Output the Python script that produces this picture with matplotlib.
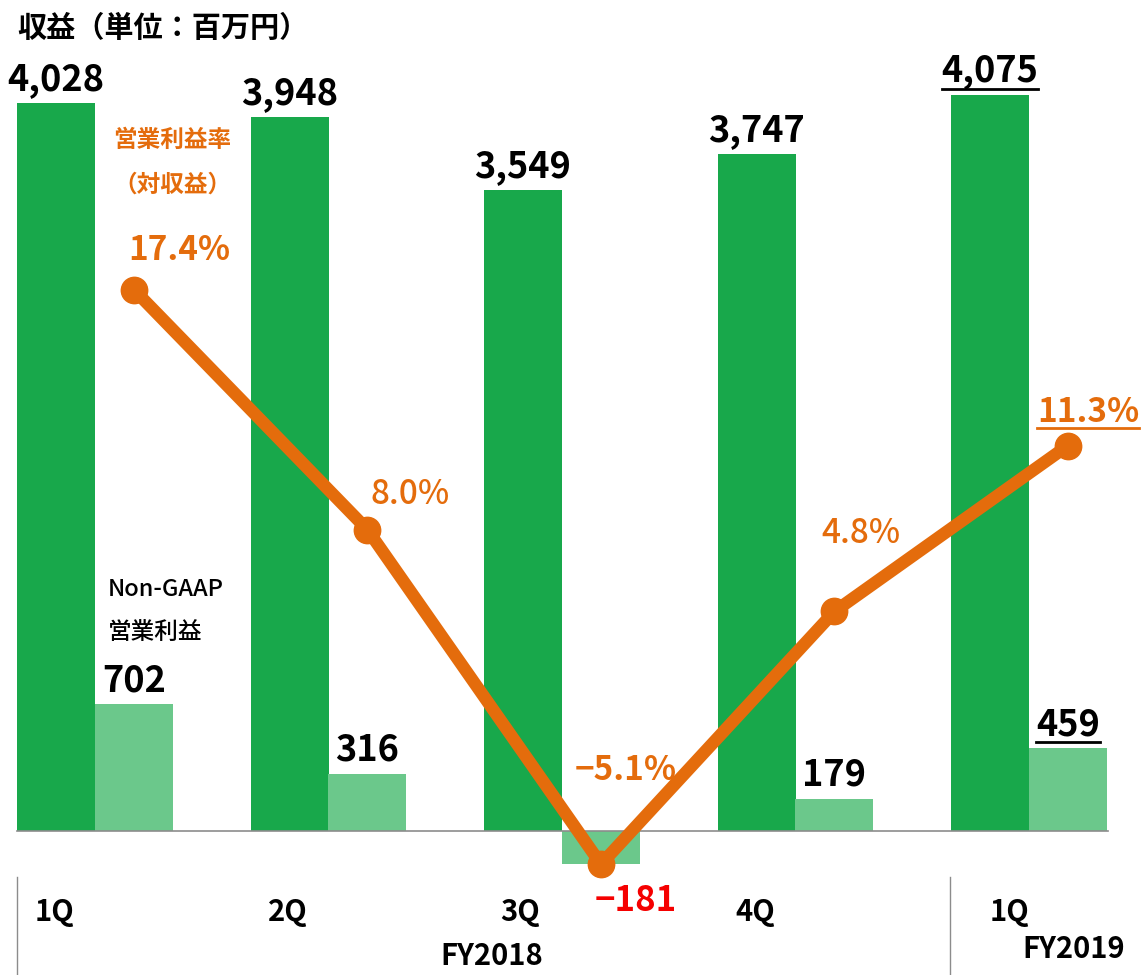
import numpy as np
import matplotlib
matplotlib.use("Agg")
import matplotlib.pyplot as plt
from matplotlib.lines import Line2D

plt.rcParams['font.family'] = ['Noto Sans CJK JP', 'DejaVu Sans']

# data
quarters = ["1Q", "2Q", "3Q", "4Q", "1Q"]
revenue = [4028, 3948, 3549, 3747, 4075]
op_income = [702, 316, -181, 179, 459]
margin = [17.4, 8.0, -5.1, 4.8, 11.3]
rev_labels = ["4,028", "3,948", "3,549", "3,747", "4,075"]
inc_labels = ["702", "316", "\u2212181", "179", "459"]
pct_labels = ["17.4%", "8.0%", "\u22125.1%", "4.8%", "11.3%"]

DARK = "#18a84b"
LIGHT = "#6bc88b"
ORANGE = "#e46c0c"
RED = "#f50000"
W, H = 1146, 975

fig = plt.figure(figsize=(W / 100, H / 100), dpi=100)
ax = fig.add_axes([0, 0, 1, 1])
ax2 = ax.twinx()

x = np.arange(len(quarters))
bw = 0.334
ax.bar(x - bw / 2, revenue, bw, color=DARK, zorder=2)
ax.bar(x + bw / 2, op_income, bw, color=LIGHT, zorder=2)
ax.plot([-0.334, 4.34], [0, 0], color="#8c8c8c", lw=1.2, zorder=3)

ax.set_xlim(-95 / 233.5, (W - 95) / 233.5)
scale = 728 / 4028
ax.set_ylim(-(H - 831) / scale, 831 / scale)
pscale = 25.53
ax2.set_ylim(-(H - 734) / pscale, 734 / pscale)

ax2.plot(x + bw / 2, margin, color=ORANGE, lw=9, marker="o", ms=19,
         solid_capstyle="round", zorder=5)

for a in (ax, ax2):
    a.axis("off")

underlined = []

# revenue labels
for i, (v, t) in enumerate(zip(revenue, rev_labels)):
    tx = ax.annotate(t, (x[i] - bw / 2, v), xytext=(0, 13), textcoords="offset pixels",
                     ha="center", va="baseline", fontsize=26, fontweight="bold")
    if i == 4:
        underlined.append((tx, "black"))

# income labels
for i, (v, t) in enumerate(zip(op_income, inc_labels)):
    if v < 0:
        ax.annotate(t, (x[i] + bw / 2, v), xytext=(35, -47), textcoords="offset pixels",
                    ha="center", va="baseline", fontsize=25, fontweight="bold", color=RED)
        continue
    tx = ax.annotate(t, (x[i] + bw / 2, v), xytext=(0, 13), textcoords="offset pixels",
                     ha="center", va="baseline", fontsize=26, fontweight="bold")
    if i == 4:
        underlined.append((tx, "black"))

# margin labels
pct_off = [(45, 30), (43, 26), (25, 84), (26, 68), (20, 24)]
pct_w = ["bold", "medium", "bold", "medium", "bold"]
for i, (v, t) in enumerate(zip(margin, pct_labels)):
    tx = ax2.annotate(t, (x[i] + bw / 2, v), xytext=pct_off[i], textcoords="offset pixels",
                      ha="center", va="baseline", fontsize=24, fontweight=pct_w[i], color=ORANGE)
    if i == 4:
        underlined.append((tx, ORANGE))


def fx(px):
    return px / W


def fy(py):
    return 1 - py / H


fig.text(fx(17), fy(28), "収益（単位：百万円）", fontsize=21, fontweight="bold", va="center")
fig.text(fx(172), fy(140), "営業利益率", fontsize=17, fontweight="bold", color=ORANGE,
         ha="center", va="center")
fig.text(fx(172), fy(185), "（対収益）", fontsize=17, fontweight="bold", color=ORANGE,
         ha="center", va="center")
fig.text(fx(108), fy(590), "Non-GAAP", fontsize=17, fontweight="medium", va="center")
fig.text(fx(108), fy(632), "営業利益", fontsize=17, fontweight="medium", va="center")

# category labels
cat_x = [35, 268, 500, 735, 990]
for q, cx in zip(quarters, cat_x):
    fig.text(fx(cx), fy(912), q, fontsize=21, fontweight="bold", va="center")
fig.text(fx(492), fy(956), "FY2018", fontsize=21, fontweight="bold", ha="center", va="center")
fig.text(fx(1074), fy(949), "FY2019", fontsize=21, fontweight="bold", ha="center", va="center")

for sx in (17, 950):
    fig.add_artist(Line2D([fx(sx), fx(sx)], [fy(877), 0], color="#8c8c8c", lw=1))

fig.canvas.draw()
inv = fig.transFigure.inverted()
for tx, col in underlined:
    bb = tx.get_window_extent().transformed(inv)
    yy = bb.y0 + 1.0 / H
    fig.add_artist(Line2D([bb.x0, bb.x1], [yy, yy], color=col, lw=2))

fig.savefig("out.png", dpi=100)
